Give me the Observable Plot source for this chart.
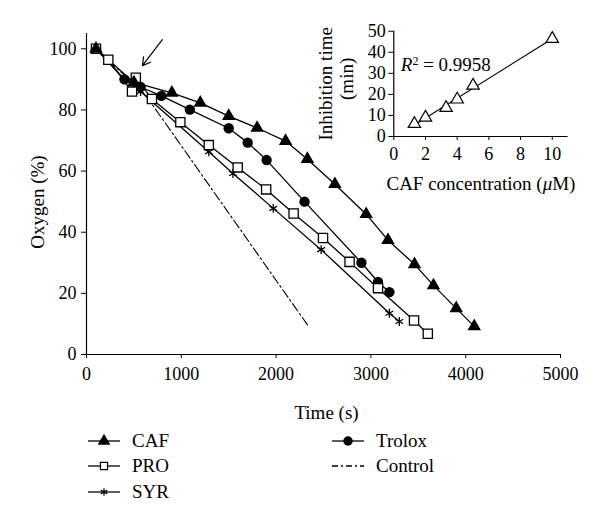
<!DOCTYPE html>
<html><head><meta charset="utf-8">
<script src="https://cdn.jsdelivr.net/npm/d3@7"></script>
<script src="https://cdn.jsdelivr.net/npm/@observablehq/plot@0.6"></script>
<style>
body{margin:0;background:#fff;}
#wrap{position:relative;width:600px;height:524px;font-family:"Liberation Serif",serif;color:#000;}
#main{position:absolute;left:0;top:0;}
#inset{position:absolute;left:290px;top:0;}
.leg{position:absolute;display:flex;align-items:center;font-size:19px;line-height:20px;}
.leg svg{margin-right:10px;}
</style></head><body>
<div id="wrap"><div id="main"></div><div id="inset"></div></div>
<script>
// ---- Main chart data (time in s, oxygen in %) ----
const cafTime    = [100, 500, 900, 1200, 1500, 1800, 2100, 2330, 2620, 2950, 3180, 3460, 3660, 3900, 4090];
const cafOxygen  = [100, 89, 85.6, 82.3, 78, 74.1, 69.8, 63.9, 55.7, 45.9, 37.4, 29.5, 22.6, 15.1, 9.2];
const troloxTime   = [100, 400, 570, 790, 1090, 1500, 1700, 1900, 2300, 2900, 3075, 3195];
const troloxOxygen = [100, 90, 87.5, 84.6, 80.1, 74, 69.3, 63.6, 50, 30, 23.7, 20.4];
const proTime   = [100, 230, 480, 520, 690, 990, 1290, 1595, 1895, 2185, 2495, 2775, 3075, 3455, 3600];
const proOxygen = [100, 96.4, 86, 90.5, 83.6, 76, 68.5, 61.2, 54, 46.1, 38.1, 30.3, 21.7, 11.1, 6.8];
const syrTime   = [100, 400, 570, 1290, 1545, 1970, 2475, 3195, 3300];
const syrOxygen = [100, 90, 86, 66.3, 59.2, 47.8, 34.3, 13.5, 10.8];
const controlTime   = [100, 620, 2340];
const controlOxygen = [100, 85, 9.3];
const xTicks = [0, 1000, 2000, 3000, 4000, 5000];
const yTicks = [0, 20, 40, 60, 80, 100];
// arrow annotation (tail -> head), data units
const arrowFrom = {t: 800, v: 103};
const arrowTo   = {t: 590, v: 94.5};

// ---- Inset data ----
const cafConc  = [1.3, 2, 3.3, 4, 5, 10];
const inhTime  = [6, 9, 13.6, 17.6, 24.2, 46.4];
const insetXTicks = [0, 2, 4, 6, 8, 10];
const insetYTicks = [0, 10, 20, 30, 40, 50];
const r2Label = "R2 = 0.9958";

const tbl = (ts, vs) => ts.map((t, i) => ({t, v: vs[i]}));
const caf = tbl(cafTime, cafOxygen), trolox = tbl(troloxTime, troloxOxygen),
      pro = tbl(proTime, proOxygen), syr = tbl(syrTime, syrOxygen), control = tbl(controlTime, controlOxygen);
const lineOpts = {x: "t", y: "v", stroke: "black", strokeWidth: 1.3};

const main = Plot.plot({
  width: 600, height: 430,
  marginLeft: 86, marginRight: 40, marginTop: 33, marginBottom: 76,
  style: {fontFamily: "Liberation Serif, serif", fontSize: "18px", background: "transparent", color: "black"},
  x: {domain: [0, 5000]},
  y: {domain: [0, 105]},
  marks: [
    Plot.axisX({ticks: xTicks, tickSize: 4, tickPadding: 9, label: null, tickFormat: d => String(d)}),
    Plot.axisY({ticks: yTicks, tickSize: 5, tickPadding: 5, label: null}),
    Plot.ruleX([0], {stroke: "black", strokeWidth: 1.2}),
    Plot.ruleY([0], {stroke: "black", strokeWidth: 1.2}),
    Plot.line(control, {...lineOpts, strokeDasharray: "9,3,2,3", strokeWidth: 1.1}),
    Plot.line(syr, lineOpts),
    Plot.line(pro, lineOpts),
    Plot.line(trolox, lineOpts),
    Plot.line(caf, lineOpts),
    Plot.dot(syr, {x: "t", y: "v", symbol: "asterisk", r: 4.2, stroke: "black", strokeWidth: 1.3}),
    Plot.dot(trolox, {x: "t", y: "v", symbol: "circle", r: 5.2, fill: "black", stroke: "none"}),
    Plot.dot(pro, {x: "t", y: "v", symbol: "square", r: 5.2, fill: "white", stroke: "black", strokeWidth: 1.3}),
    Plot.dot(caf, {x: "t", y: "v", symbol: "triangle", r: 5, fill: "black", stroke: "none"}),
    Plot.arrow([{}], {x1: () => arrowFrom.t, y1: () => arrowFrom.v, x2: () => arrowTo.t, y2: () => arrowTo.v, stroke: "black", strokeWidth: 1.2, headLength: 11}),
    Plot.text(["Oxygen (%)"], {frameAnchor: "left", textAnchor: "middle", rotate: -90, dx: -49, dy: 8, fontSize: 19}),
    Plot.text(["Time (s)"], {frameAnchor: "bottom", textAnchor: "middle", lineAnchor: "middle", dx: 3, dy: 58, fontSize: 19})
  ]
});
document.getElementById("main").appendChild(main);

const insetData = cafConc.map((c, i) => ({c, m: inhTime[i]}));
const inset = Plot.plot({
  width: 300, height: 200,
  marginLeft: 103.3, marginRight: 22.4, marginTop: 30.7, marginBottom: 64,
  style: {fontFamily: "Liberation Serif, serif", fontSize: "18px", background: "transparent", color: "black"},
  x: {domain: [0, 11]},
  y: {domain: [0, 50]},
  marks: [
    Plot.axisX({ticks: insetXTicks, tickSize: 4, tickPadding: 7, label: null}),
    Plot.axisY({ticks: insetYTicks, tickSize: 5, tickPadding: 3, label: null}),
    Plot.ruleX([0], {stroke: "black", strokeWidth: 1.2}),
    Plot.ruleY([0], {stroke: "black", strokeWidth: 1.2}),
    Plot.linearRegressionY(insetData, {x: "c", y: "m", ci: 0, stroke: "black", strokeWidth: 1.2}),
    Plot.dot(insetData, {x: "c", y: "m", symbol: "triangle", r: 4.6, fill: "white", stroke: "black", strokeWidth: 1.2}),
    Plot.text([r2Label], {frameAnchor: "top-left", textAnchor: "start", lineAnchor: "middle", dx: 7, dy: 34, fontSize: 19}),
    Plot.text(["Inhibition time"], {frameAnchor: "left", textAnchor: "middle", rotate: -90, dx: -68, dy: 0, fontSize: 19}),
    Plot.text(["(min)"], {frameAnchor: "left", textAnchor: "middle", rotate: -90, dx: -47, dy: -5, fontSize: 19}),
    Plot.text(["CAF concentration (μM)"], {frameAnchor: "bottom", textAnchor: "middle", lineAnchor: "middle", dy: 47, fontSize: 19})
  ]
});
document.getElementById("inset").appendChild(inset);

// rich text: italic R with superscript, italic mu
d3.select(inset).selectAll("text").each(function() {
  const t = d3.select(this);
  if (this.textContent === r2Label) {
    t.text("");
    t.append("tspan").attr("font-style", "italic").text("R");
    t.append("tspan").attr("font-size", "12px").attr("dy", "-0.5em").text("2");
    t.append("tspan").attr("dy", "0.32em").text(" = 0.9958");
  } else if (this.textContent === "CAF concentration (μM)") {
    t.text("");
    t.append("tspan").text("CAF concentration (");
    t.append("tspan").attr("font-style", "italic").text("μ");
    t.append("tspan").text("M)");
  }
});

// ---- Legend ----
const legendItems = [
  {name: "CAF", symbol: d3.symbolTriangle, fill: "black", dash: null, col: 0, row: 0},
  {name: "PRO", symbol: d3.symbolSquare, fill: "white", dash: null, col: 0, row: 1},
  {name: "SYR", symbol: d3.symbolAsterisk, fill: "none", dash: null, col: 0, row: 2},
  {name: "Trolox", symbol: d3.symbolCircle, fill: "black", dash: null, col: 1, row: 0},
  {name: "Control", symbol: null, fill: null, dash: "6,3,2,3", col: 1, row: 1}
];
const colX = [88, 332], rowY = [441, 466, 492];
const wrap = document.getElementById("wrap");
for (const it of legendItems) {
  const div = document.createElement("div");
  div.className = "leg";
  div.style.left = colX[it.col] + "px";
  div.style.top = (rowY[it.row] - 10) + "px";
  div.style.height = "20px";
  const svg = d3.create("svg").attr("width", 34).attr("height", 16);
  svg.append("line").attr("x1", 0).attr("x2", 32).attr("y1", 8).attr("y2", 8)
     .attr("stroke", "black").attr("stroke-width", 1.3).attr("stroke-dasharray", it.dash);
  if (it.symbol) {
    const size = it.symbol === d3.symbolAsterisk ? 40 : it.symbol === d3.symbolSquare ? 50 : 70;
    svg.append("path").attr("transform", "translate(16,8)")
      .attr("d", d3.symbol(it.symbol, size)())
      .attr("fill", it.fill).attr("stroke", it.fill === "black" ? "none" : "black").attr("stroke-width", 1.2);
  }
  div.appendChild(svg.node());
  const span = document.createElement("span");
  span.textContent = it.name;
  div.appendChild(span);
  wrap.appendChild(div);
}
</script>
</body></html>
